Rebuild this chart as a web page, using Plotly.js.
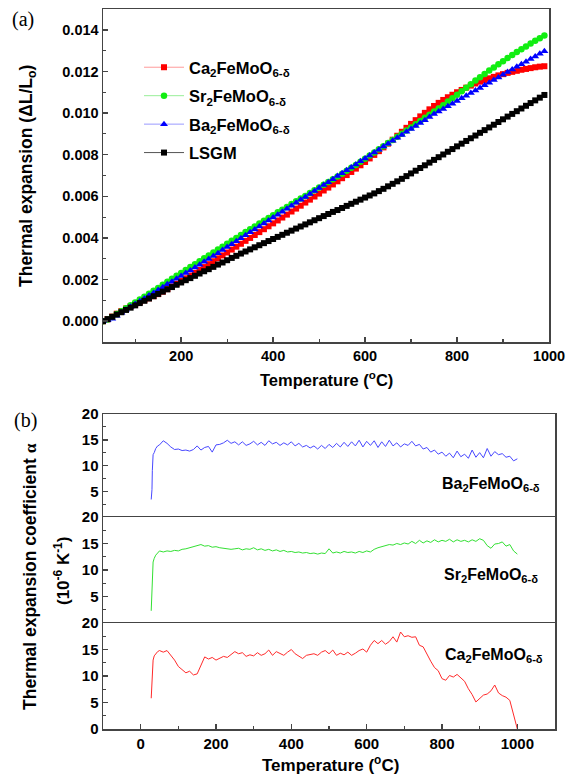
<!DOCTYPE html>
<html>
<head>
<meta charset="utf-8">
<script src="https://cdn.plot.ly/plotly-3.0.1.min.js"></script>
<style>html,body{margin:0;padding:0;background:#fff;}#chart{width:571px;height:776px;}</style>
</head>
<body>
<div id="chart"></div>
<script>
// ---------- Panel (a): thermal expansion dL/L0 ----------
const tempA = [30,40,50,60,70,80,90,100,110,120,130,140,150,160,170,180,190,200,210,220,230,240,250,260,270,280,290,300,310,320,330,340,350,360,370,380,390,400,410,420,430,440,450,460,470,480,490,500,510,520,530,540,550,560,570,580,590,600,610,620,630,640,650,660,670,680,690,700,710,720,730,740,750,760,770,780,790,800,810,820,830,840,850,860,870,880,890,900,910,920,930,940,950,960,970,980,990];

const expCa = [0,0.00009,0.00022,0.00036,0.00049,0.00061,0.00072,0.00082,
0.00092,0.00101,0.00110,0.00120,0.00130,0.00142,0.00154,0.00167,0.00180,0.00193,
0.00206,0.00219,0.00232,0.00246,0.00260,0.00274,0.00288,0.00302,0.00316,0.00330,
0.00344,0.00358,0.00372,0.00386,0.00400,0.00414,0.00428,0.00442,0.00456,0.00470,
0.00484,0.00498,0.00512,0.00527,0.00541,0.00555,0.00570,0.00584,0.00599,0.00613,
0.00628,0.00642,0.00657,0.00672,0.00687,0.00702,0.00717,0.00733,0.00749,0.00765,
0.00782,0.00799,0.00817,0.00835,0.00853,0.00872,0.00891,0.00910,0.00929,0.00948,
0.00966,0.00984,0.01001,0.01018,0.01034,0.01049,0.01063,0.01076,0.01088,0.01100,
0.01111,0.01122,0.01132,0.01142,0.01151,0.01159,0.01167,0.01174,0.01181,0.01187,
0.01193,0.01198,0.01203,0.01208,0.01212,0.01216,0.01220,0.01223,0.01225];

const expSr = [0,0.00008,0.00020,0.00034,0.00048,0.00062,0.00076,0.00090,
0.00104,0.00118,0.00132,0.00146,0.00160,0.00175,0.00190,0.00204,0.00218,0.00232,
0.00246,0.00260,0.00274,0.00288,0.00302,0.00316,0.00330,0.00344,0.00358,0.00372,
0.00386,0.00400,0.00414,0.00428,0.00442,0.00455,0.00469,0.00482,0.00496,0.00509,
0.00523,0.00536,0.00549,0.00563,0.00576,0.00589,0.00602,0.00616,0.00629,0.00642,
0.00655,0.00669,0.00682,0.00695,0.00709,0.00723,0.00737,0.00751,0.00766,0.00781,
0.00796,0.00811,0.00826,0.00841,0.00856,0.00871,0.00886,0.00901,0.00916,0.00931,
0.00946,0.00962,0.00977,0.00992,0.01007,0.01022,0.01038,0.01055,0.01071,0.01088,
0.01105,0.01122,0.01139,0.01156,0.01172,0.01188,0.01204,0.01219,0.01234,0.01249,
0.01264,0.01279,0.01293,0.01307,0.01320,0.01334,0.01347,0.01360,0.01373];

const expBa = [0,0.00004,0.00012,0.00026,0.00041,0.00055,0.00069,0.00082,
0.00096,0.00109,0.00123,0.00136,0.00150,0.00163,0.00177,0.00190,0.00204,0.00217,
0.00231,0.00244,0.00258,0.00271,0.00285,0.00299,0.00313,0.00327,0.00342,0.00356,
0.00370,0.00384,0.00398,0.00413,0.00427,0.00441,0.00455,0.00469,0.00484,0.00498,
0.00512,0.00526,0.00540,0.00555,0.00569,0.00583,0.00597,0.00611,0.00626,0.00640,
0.00654,0.00668,0.00682,0.00697,0.00711,0.00725,0.00739,0.00753,0.00768,0.00782,
0.00796,0.00810,0.00824,0.00839,0.00853,0.00867,0.00881,0.00895,0.00910,0.00924,
0.00938,0.00952,0.00966,0.00981,0.00995,0.01008,0.01020,0.01033,0.01045,0.01058,
0.01071,0.01083,0.01096,0.01108,0.01121,0.01134,0.01146,0.01159,0.01171,0.01184,
0.01197,0.01209,0.01222,0.01234,0.01247,0.01260,0.01272,0.01285,0.01297];

const expLSGM = [0,0.00010,0.00021,0.00032,0.00043,0.00054,0.00065,0.00076,
0.00087,0.00098,0.00109,0.00120,0.00131,0.00142,0.00153,0.00164,0.00175,0.00186,
0.00197,0.00207,0.00218,0.00229,0.00240,0.00250,0.00261,0.00272,0.00282,0.00293,
0.00304,0.00314,0.00325,0.00335,0.00345,0.00355,0.00365,0.00375,0.00385,0.00395,
0.00405,0.00415,0.00425,0.00435,0.00445,0.00455,0.00465,0.00475,0.00485,0.00495,
0.00505,0.00515,0.00525,0.00534,0.00544,0.00554,0.00564,0.00574,0.00584,0.00594,
0.00604,0.00614,0.00625,0.00636,0.00648,0.00660,0.00672,0.00684,0.00697,0.00710,
0.00723,0.00736,0.00749,0.00762,0.00775,0.00788,0.00801,0.00814,0.00827,0.00840,
0.00853,0.00866,0.00879,0.00892,0.00905,0.00918,0.00931,0.00944,0.00957,0.00970,
0.00983,0.00996,0.01009,0.01022,0.01035,0.01048,0.01061,0.01074,0.01087];

// ---------- Panel (b): thermal expansion coefficient (1e-6 /K) ----------
const tempB = [28,30,31,33,36,40,45,50,60,70,80,90,100,110,120,130,140,150,160,170,180,190,200,210,220,230,240,250,260,270,280,290,300,310,320,330,340,350,360,370,380,390,400,410,420,430,440,450,460,470,480,490,500,510,520,530,540,550,560,570,580,590,600,610,620,630,640,650,660,670,680,690,700,710,720,730,740,750,760,770,780,790,800,810,820,830,840,850,860,870,880,890,900,910,920,930,940,950,960,970,980,990,1000];

const cteBa = [3.4,5.3,9.0,12.1,12.5,13.3,13.8,14.0,
14.8,14.3,13.6,13.1,13.2,
12.9,13.0,12.8,13.1,13.8,13.0,13.5,13.7,12.6,14.0,
14.1,14.4,14.9,14.3,14.6,14.0,14.6,13.9,14.2,14.7,
14.0,14.5,13.9,14.8,14.2,14.5,13.9,14.4,14.0,14.6,
13.8,14.3,13.6,13.9,13.4,13.8,13.2,13.9,13.3,14.1,
13.5,14.3,13.6,14.5,13.7,14.6,13.8,14.9,13.6,14.7,
13.9,14.8,13.5,14.6,13.7,14.9,13.8,14.4,13.6,14.2,
13.9,14.7,13.8,14.1,13.2,13.5,12.6,13.0,12.2,12.6,
11.8,12.4,11.5,12.8,11.7,12.2,11.4,13.0,11.6,12.5,
11.5,13.3,11.8,12.7,12.1,12.3,11.6,11.8,10.9,11.3];

const cteSr = [2.3,6.0,10.0,11.5,12.2,12.8,13.2,13.6,
13.4,13.6,13.5,13.7,13.6,
13.9,14.0,14.2,14.4,14.7,14.8,14.5,14.6,14.3,14.4,
14.2,14.1,14.0,13.9,14.0,14.1,13.8,14.0,13.9,14.2,
13.8,14.0,13.7,13.9,13.6,13.8,13.5,13.7,13.4,13.5,
13.3,13.4,13.2,13.3,13.1,13.2,13.0,13.2,13.1,14.0,
13.2,13.4,13.2,13.5,13.3,13.4,13.2,13.5,13.3,13.6,
13.4,13.9,14.2,14.4,14.6,14.8,14.7,15.0,14.8,15.1,
14.9,15.4,15.0,15.6,15.1,15.5,15.2,15.7,15.3,15.6,
15.4,15.8,15.3,15.7,15.4,15.6,15.3,15.7,15.4,15.9,
15.6,14.6,14.1,14.9,15.0,15.3,14.5,14.8,13.6,13.0];

const cteCa = [5.8,8.5,11.7,13.0,13.8,14.2,14.6,14.8,
14.5,14.8,14.0,13.0,11.8,
11.2,10.6,10.9,10.2,10.4,12.0,13.6,13.2,13.5,13.0,
13.3,13.7,13.5,14.1,14.6,14.2,14.4,13.7,14.0,13.8,
14.4,13.9,14.2,14.9,13.9,14.6,14.3,13.9,14.5,15.0,
14.2,13.8,13.3,13.9,14.0,14.2,13.9,14.5,14.8,14.2,
14.9,13.9,14.3,14.0,14.5,13.9,14.3,14.8,15.1,14.5,
15.8,16.7,16.1,16.7,16.0,16.5,17.4,16.4,18.3,17.4,
17.6,17.3,17.4,15.8,15.5,14.0,12.8,11.6,11.0,9.5,
9.2,10.1,9.8,10.3,9.7,9.0,7.6,6.5,5.1,5.8,
6.4,6.6,7.2,8.3,6.8,6.3,6.0,5.4,2.5,0.0];

const namesHTML = {
  Ca: 'Ca<sub>2</sub>FeMoO<sub>6-δ</sub>',
  Sr: 'Sr<sub>2</sub>FeMoO<sub>6-δ</sub>',
  Ba: 'Ba<sub>2</sub>FeMoO<sub>6-δ</sub>',
  LSGM: 'LSGM'
};

const W = 571, H = 776;
const px = v => v / W;
const py = v => 1 - v / H;

const SANS = 'Liberation Sans, Arial, sans-serif';
const SERIF = 'Liberation Serif, Times New Roman, serif';
const AX = '#444';

function mkTop(name, x, y, mColor, lColor, symbol, size, group) {
  return {
    x: x, y: y, type: 'scatter', mode: 'lines+markers', name: name,
    legendgroup: group, xaxis: 'x', yaxis: 'y',
    line: {color: lColor, width: 1},
    marker: {color: mColor, symbol: symbol, size: size, line: {width: 0}},
    hoverinfo: 'skip'
  };
}
function mkBot(x, y, color, xa, ya) {
  return {
    x: x, y: y, type: 'scatter', mode: 'lines', showlegend: false,
    xaxis: xa, yaxis: ya, line: {color: color, width: 1}, hoverinfo: 'skip'
  };
}

const data = [
  mkTop(namesHTML.Ca, tempA, expCa, '#ff0000', '#ff9a9a', 'square', 6, 'g1'),
  mkTop(namesHTML.Sr, tempA, expSr, '#11ee11', '#99ee99', 'circle', 6.5, 'g2'),
  mkTop(namesHTML.Ba, tempA, expBa, '#0000ff', '#9a9aff', 'triangle-up', 7, 'g3'),
  mkTop(namesHTML.LSGM, tempA, expLSGM, '#000000', '#555555', 'square', 6, 'g4'),
  mkBot(tempB, cteBa, '#4848ff', 'x2', 'y2'),
  mkBot(tempB, cteSr, '#33e033', 'x3', 'y3'),
  mkBot(tempB, cteCa, '#ff2a2a', 'x4', 'y4')
];

const tickFontA = {family: SANS, size: 14.5, color: '#000', weight: 'bold'};
const tickFontB = {family: SANS, size: 15, color: '#000', weight: 'bold'};

const baseAxis = {
  showline: true, mirror: true, linecolor: AX, linewidth: 1.5,
  showgrid: false, zeroline: false, ticks: 'inside', ticklen: 5,
  tickwidth: 1.5, tickcolor: AX, fixedrange: true
};

const botX = {x0: 103, x1: 555};
const yDom = {
  ba: [py(517), py(414)],
  sr: [py(623), py(517)],
  ca: [py(729), py(623)]
};

function note(text, x, y, opts) {
  return Object.assign({
    text: text, xref: 'paper', yref: 'paper', x: px(x), y: py(y),
    xanchor: 'center', yanchor: 'middle', showarrow: false
  }, opts);
}

const minorY = {tickmode: 'array', tickvals: [2.5, 7.5, 12.5, 17.5], ticks: 'inside', ticklen: 3, tickwidth: 1.2, tickcolor: AX};

const layout = {
  width: W, height: H,
  margin: {l: 0, r: 0, t: 0, b: 0},
  paper_bgcolor: '#fff', plot_bgcolor: '#fff',
  font: {family: SANS, color: '#000', weight: 'bold'},
  showlegend: true,
  legend: {
    x: px(139), y: py(50), xanchor: 'left', yanchor: 'top',
    bgcolor: 'rgba(0,0,0,0)', borderwidth: 0,
    font: {family: SANS, size: 16.5, color: '#000', weight: 'bold'},
    itemwidth: 40, tracegroupgap: 4, traceorder: 'grouped'
  },
  xaxis: Object.assign({}, baseAxis, {
    domain: [px(103), px(549)], anchor: 'y', range: [30, 1000],
    tickmode: 'linear', tick0: 0, dtick: 200, tickfont: tickFontA,
    minor: {tick0: 0, dtick: 100, ticks: 'inside', ticklen: 3, tickwidth: 1.2, tickcolor: AX}
  }),
  yaxis: Object.assign({}, baseAxis, {
    domain: [py(342), py(9)], anchor: 'x', range: [-0.001, 0.015],
    tickmode: 'linear', tick0: 0, dtick: 0.002, tickformat: '.3f', tickfont: tickFontA,
    minor: {tick0: 0, dtick: 0.001, ticks: 'inside', ticklen: 3, tickwidth: 1.2, tickcolor: AX}
  }),
  xaxis2: Object.assign({}, baseAxis, {
    domain: [px(botX.x0), px(botX.x1)], anchor: 'y2', range: [-100, 1100],
    side: 'top', mirror: false, ticks: '', showticklabels: false
  }),
  yaxis2: Object.assign({}, baseAxis, {
    domain: yDom.ba, anchor: 'x2', range: [0, 20], tickmode: 'array',
    tickvals: [5, 10, 15, 20], tickfont: tickFontB, minor: minorY
  }),
  xaxis3: Object.assign({}, baseAxis, {
    domain: [px(botX.x0), px(botX.x1)], anchor: 'y3', range: [-100, 1100],
    side: 'top', mirror: false, ticks: '', showticklabels: false
  }),
  yaxis3: Object.assign({}, baseAxis, {
    domain: yDom.sr, anchor: 'x3', range: [0, 20], tickmode: 'array',
    tickvals: [5, 10, 15, 20], tickfont: tickFontB, minor: minorY
  }),
  xaxis4: Object.assign({}, baseAxis, {
    domain: [px(botX.x0), px(botX.x1)], anchor: 'y4', range: [-100, 1100],
    tickmode: 'linear', tick0: 0, dtick: 200, tickfont: tickFontB,
    minor: {tick0: 0, dtick: 100, ticks: 'inside', ticklen: 3, tickwidth: 1.2, tickcolor: AX}
  }),
  yaxis4: Object.assign({}, baseAxis, {
    domain: yDom.ca, anchor: 'x4', range: [0, 20], tickmode: 'linear',
    tick0: 0, dtick: 5, tickfont: tickFontB,
    minor: {tick0: 0, dtick: 2.5, ticks: 'inside', ticklen: 3, tickwidth: 1.2, tickcolor: AX}
  }),
  annotations: [
    note('(a)', 23, 19, {font: {family: SERIF, size: 20, color: '#000', weight: 'normal'}}),
    note('(b)', 25, 421, {font: {family: SERIF, size: 20, color: '#000', weight: 'normal'}}),
    note('Thermal expansion (ΔL/L<sub>o</sub>)', 28, 176,
      {textangle: -90, font: {family: SANS, size: 17.5, color: '#000', weight: 'bold'}}),
    note('Temperature (<sup>o</sup>C)', 326, 379,
      {font: {family: SANS, size: 16.5, color: '#000', weight: 'bold'}}),
    note('Temperature (<sup>o</sup>C)', 330, 764,
      {font: {family: SANS, size: 17, color: '#000', weight: 'bold'}}),
    note('Thermal expansion coefficient <span style="font-family:Liberation Serif">α</span>', 30, 577,
      {textangle: -90, font: {family: SANS, size: 17.5, color: '#000', weight: 'bold'}}),
    note('(10<sup>-6</sup> K<sup>-1</sup>)', 62, 571,
      {textangle: -90, font: {family: SANS, size: 17, color: '#000', weight: 'bold'}}),
    note(namesHTML.Ba, 440, 484,
      {xanchor: 'left', font: {family: SANS, size: 16, color: '#000', weight: 'bold'}}),
    note(namesHTML.Sr, 442, 575,
      {xanchor: 'left', font: {family: SANS, size: 16, color: '#000', weight: 'bold'}}),
    note(namesHTML.Ca, 443, 655,
      {xanchor: 'left', font: {family: SANS, size: 16, color: '#000', weight: 'bold'}})
  ]
};

Plotly.newPlot('chart', data, layout, {staticPlot: true, displayModeBar: false});
</script>
</body>
</html>
